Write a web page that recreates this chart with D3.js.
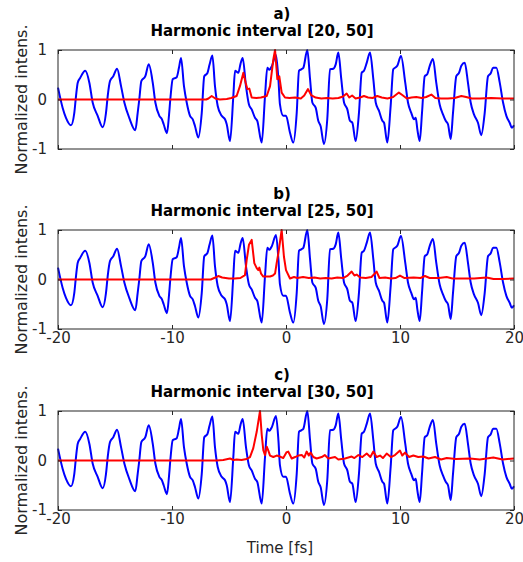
<!DOCTYPE html>
<html>
<head>
<meta charset="utf-8">
<script src="https://cdn.jsdelivr.net/npm/d3@7"></script>
<style>
body { margin: 0; background: #fff; }
text { font-family: "DejaVu Sans", sans-serif; fill: #262626; }
</style>
</head>
<body>
<div id="vis"></div>
<script>
var width = 523;
var height = 562;

// driving field, same in every panel
var fieldT = [-20.0, -19.59, -19.30, -18.86, -18.57, -18.42, -18.27, -18.07, -17.61, -17.25,
    -16.96, -16.52, -16.08, -15.79, -15.64, -15.44, -15.15, -14.82, -14.47, -14.18,
    -13.75, -13.22, -13.01, -12.87, -12.69, -12.34, -12.04, -11.69, -11.46, -11.11,
    -10.88, -10.73, -10.44, -10.26, -10.13, -9.94, -9.59, -9.39, -9.21, -8.95,
    -8.71, -8.42, -8.18, -7.98, -7.69, -7.39, -7.17, -6.90, -6.71, -6.46,
    -6.23, -5.99, -5.64, -5.35, -5.20, -4.91, -4.62, -4.47, -4.18, -3.99,
    -3.80, -3.51, -3.25, -3.01, -2.72, -2.52, -2.13, -1.84, -1.64, -1.46,
    -1.23, -0.88, -0.66, -0.53, -0.24, 0.0, 0.35, 0.64, 0.94, 1.14,
    1.34, 1.52, 1.87, 2.11, 2.31, 2.61, 2.83, 3.04, 3.33, 3.62,
    3.86, 4.15, 4.36, 4.59, 4.85, 5.09, 5.38, 5.61, 5.82, 6.11,
    6.40, 6.64, 6.84, 7.08, 7.37, 7.66, 7.87, 8.16, 8.45, 8.60,
    8.89, 9.18, 9.41, 9.76, 10.09, 10.46, 10.70, 10.99, 11.23, 11.38,
    11.52, 11.73, 11.93, 12.17, 12.39, 12.61, 12.89, 13.18, 13.48, 13.77,
    14.01, 14.21, 14.45, 14.65, 14.94, 15.18, 15.38, 15.68, 15.96, 16.20,
    16.49, 16.84, 17.13, 17.43, 17.72, 17.96, 18.16, 18.45, 18.75, 19.04,
    19.33, 19.62, 19.82, 20.0];
var fieldV = [0.24, -0.17, -0.37, -0.52, -0.27, 0.07, 0.34, 0.43, 0.58, 0.34,
    -0.06, -0.33, -0.56, -0.27, 0.07, 0.37, 0.47, 0.62, 0.27, -0.06,
    -0.37, -0.62, -0.27, 0.0, 0.37, 0.47, 0.71, 0.34, -0.06, -0.33,
    -0.40, -0.50, -0.68, -0.31, 0.05, 0.41, 0.45, 0.64, 0.84, 0.27,
    -0.06, -0.33, -0.40, -0.54, -0.77, -0.27, 0.47, 0.53, 0.70, 0.89,
    0.27, -0.13, -0.33, -0.40, -0.50, -0.84, 0.07, 0.58, 0.54, 0.72,
    0.84, 0.27, -0.10, -0.20, -0.37, -0.43, -0.87, 0.07, 0.64, 0.60,
    0.68, 0.90, 0.39, -0.10, -0.33, -0.33, -0.67, -0.87, -0.27, 0.58,
    0.61, 0.64, 1.0, 0.41, -0.06, -0.17, -0.43, -0.54, -0.90, -0.40,
    0.61, 0.62, 0.71, 0.95, 0.41, -0.06, -0.20, -0.43, -0.47, -0.84,
    -0.27, 0.54, 0.58, 0.74, 0.95, 0.41, -0.06, -0.23, -0.43, -0.47,
    -0.87, -0.13, 0.61, 0.68, 0.88, 0.34, -0.06, -0.27, -0.40, -0.37,
    -0.60, -0.84, -0.27, 0.47, 0.51, 0.68, 0.82, 0.34, -0.10, -0.30,
    -0.43, -0.50, -0.80, -0.27, 0.47, 0.54, 0.68, 0.74, 0.34, -0.06,
    -0.30, -0.47, -0.72, -0.27, 0.47, 0.53, 0.64, 0.64, 0.34, -0.06,
    -0.33, -0.47, -0.57, -0.52];

// attosecond pulse, harmonic interval [20, 50]
var pulseT_a = [-20, -7.0, -6.8, -6.52, -6.2, -5.8, -5.2, -4.8, -4.33, -4.04,
    -3.74, -3.54, -3.39, -3.22, -3.01, -2.6, -2.2, -1.69, -1.40, -1.11,
    -0.96, -0.76, -0.59, -0.38, -0.09, 0.3, 0.8, 1.3, 1.6, 1.93,
    2.2, 2.6, 3.1, 3.6, 4.1, 4.6, 5.0, 5.32, 5.55, 5.8,
    6.1, 6.5, 6.84, 7.2, 7.6, 8.0, 8.4, 8.9, 9.4, 9.9,
    10.2, 10.6, 11.0, 11.43, 11.9, 12.3, 12.75, 13.1, 13.6, 14.2,
    14.8, 15.38, 15.8, 16.3, 17.0, 18.0, 19.0, 20.0];
var pulseV_a = [0, 0, 0.02, 0.07, 0.02, 0.0, 0.01, 0.03, 0.07, 0.27,
    0.54, 0.34, 0.21, 0.22, 0.04, 0.03, 0.04, 0.07, 0.27, 0.81,
    1.0, 0.41, 0.47, 0.14, 0.04, 0.03, 0.04, 0.02, 0.08, 0.21,
    0.09, 0.04, 0.02, 0.03, 0.02, 0.03, 0.06, 0.12, 0.04, 0.08,
    0.02, 0.04, 0.07, 0.04, 0.03, 0.07, 0.04, 0.02, 0.05, 0.14,
    0.09, 0.02, 0.04, 0.05, 0.03, 0.05, 0.1, 0.03, 0.02, 0.02,
    0.03, 0.07, 0.05, 0.02, 0.02, 0.03, 0.02, 0.02];

// harmonic interval [25, 50]
var pulseT_b = [-20, -6.6, -6.2, -5.94, -5.6, -5.0, -4.5, -4.0, -3.60, -3.45,
    -3.25, -3.01, -2.78, -2.57, -2.43, -2.34, -2.19, -1.99, -1.40, -1.15,
    -0.96, -0.82, -0.67, -0.38, -0.18, 0.0, 0.35, 0.7, 1.0, 1.5,
    2.0, 2.5, 3.0, 3.5, 4.0, 4.5, 5.0, 5.4, 5.76, 6.0,
    6.2, 6.5, 7.0, 7.5, 7.95, 8.2, 8.7, 9.2, 9.6, 10.0,
    10.4, 11.2, 11.8, 12.19, 12.6, 13.4, 14.1, 14.6, 15.5, 16.5,
    17.6, 18.2, 19.0, 20.0];
var pulseV_b = [0, 0, 0.04, 0.07, 0.04, 0.02, 0.02, 0.03, 0.09, 0.39,
    0.70, 0.8, 0.33, 0.23, 0.19, 0.24, 0.12, 0.06, 0.06, 0.08,
    0.12, 0.33, 0.53, 1.0, 0.46, 0.19, 0.02, 0.05, 0.03, 0.05,
    0.03, 0.04, 0.02, 0.03, 0.02, 0.04, 0.03, 0.08, 0.16, 0.08,
    0.1, 0.04, 0.03, 0.05, 0.16, 0.03, 0.04, 0.02, 0.03, 0.08,
    0.03, 0.04, 0.03, 0.07, 0.03, 0.03, 0.05, 0.02, 0.02, 0.02,
    0.04, 0.01, 0.01, 0.02];

// harmonic interval [30, 50]
var pulseT_c = [-20, -6.5, -6.08, -5.5, -4.91, -4.6, -4.33, -3.9, -3.45, -3.16,
    -2.87, -2.57, -2.28, -2.13, -1.99, -1.84, -1.69, -1.55, -1.40, -1.11,
    -0.82, -0.53, -0.24, 0.06, 0.2, 0.5, 0.8, 1.08, 1.4, 1.6,
    1.81, 2.0, 2.16, 2.4, 2.69, 3.13, 3.4, 3.71, 4.3, 4.59,
    5.18, 5.76, 6.0, 6.35, 6.7, 7.08, 7.4, 7.66, 7.95, 8.25,
    8.5, 8.83, 9.2, 9.56, 10.0, 10.2, 10.44, 10.8, 11.17, 11.6,
    12.05, 12.5, 13.07, 13.6, 14.1, 14.9, 16.14, 17.0, 18.19, 19.0,
    20.0];
var pulseV_c = [0, 0, 0.0, 0.01, 0.04, 0.01, 0.02, 0.01, 0.03, 0.07,
    0.25, 0.58, 1.0, 0.52, 0.21, 0.11, 0.28, 0.2, 0.1, 0.07,
    0.1, 0.08, 0.05, 0.17, 0.18, 0.04, 0.07, 0.1, 0.11, 0.06,
    0.18, 0.1, 0.16, 0.07, 0.04, 0.07, 0.11, 0.04, 0.07, 0.02,
    0.04, 0.08, 0.05, 0.11, 0.07, 0.14, 0.07, 0.18, 0.07, 0.1,
    0.05, 0.14, 0.07, 0.11, 0.2, 0.1, 0.16, 0.07, 0.1, 0.07,
    0.08, 0.04, 0.07, 0.02, 0.05, 0.03, 0.04, 0.02, 0.06, 0.02,
    0.04];

var panelLetters = ['a)', 'b)', 'c)'];
var panelTitles = ['Harmonic interval [20, 50]', 'Harmonic interval [25, 50]', 'Harmonic interval [30, 50]'];
var pulseT = [pulseT_a, pulseT_b, pulseT_c];
var pulseV = [pulseV_a, pulseV_b, pulseV_c];
var xTicks = [-20, -10, 0, 10, 20];
var yTicks = [-1, 0, 1];
var showXLabels = [false, true, true];

var left = 58, right = 514, panelH = 99;
var panelTops = [50, 230, 411];

var svg = d3.select('#vis')
    .append('svg')
    .attr('width', width)
    .attr('height', height);

var x = d3.scaleLinear().domain([-20, 20]).range([left, right]);

// plain hyphen for negatives, like matlab
var fmt = function (d) { return String(d); };

function zipPts(ts, vs) {
    return ts.map(function (t, i) { return [t, vs[i]]; });
}

panelTops.forEach(function (top, p) {
    var y = d3.scaleLinear().domain([-1, 1]).range([top + panelH, top]);
    var g = svg.append('g');

    var line = d3.line()
        .x(function (d) { return x(d[0]); })
        .y(function (d) { return y(d[1]); });

    // blue field then red pulse on top
    g.append('path')
        .datum(zipPts(fieldT, fieldV))
        .attr('d', line.curve(d3.curveMonotoneX))
        .attr('fill', 'none')
        .attr('stroke', '#0000ff')
        .attr('stroke-width', 2)
        .attr('stroke-linejoin', 'round');
    g.append('path')
        .datum(zipPts(pulseT[p], pulseV[p]))
        .attr('d', line.curve(d3.curveLinear))
        .attr('fill', 'none')
        .attr('stroke', '#ff0000')
        .attr('stroke-width', 2)
        .attr('stroke-linejoin', 'round');

    // axes, ticks point inwards
    g.append('g')
        .attr('transform', 'translate(0,' + (top + panelH) + ')')
        .call(d3.axisBottom(x).tickValues(xTicks).tickSizeInner(-4).tickSizeOuter(0).tickPadding(3)
            .tickFormat(showXLabels[p] ? fmt : ''));
    g.append('g')
        .attr('transform', 'translate(0,' + top + ')')
        .call(d3.axisTop(x).tickValues(xTicks).tickSizeInner(-4).tickSizeOuter(0).tickFormat(''));
    g.append('g')
        .attr('transform', 'translate(' + left + ',0)')
        .call(d3.axisLeft(y).tickValues(yTicks).tickSizeInner(-4).tickSizeOuter(0).tickPadding(11)
            .tickFormat(fmt));
    g.append('g')
        .attr('transform', 'translate(' + right + ',0)')
        .call(d3.axisRight(y).tickValues(yTicks).tickSizeInner(-4).tickSizeOuter(0).tickFormat(''));

    g.selectAll('.domain').remove();
    g.selectAll('.tick line').attr('stroke', '#262626');
    g.selectAll('.tick text')
        .style('font-family', '"DejaVu Sans", sans-serif')
        .style('font-size', '15px')
        .attr('fill', '#262626');

    g.append('rect')
        .attr('x', left)
        .attr('y', top)
        .attr('width', right - left)
        .attr('height', panelH)
        .attr('fill', 'none')
        .attr('stroke', '#262626')
        .attr('stroke-width', 1);

    // titles
    g.append('text')
        .attr('x', 282)
        .attr('y', top - 31.5)
        .attr('text-anchor', 'middle')
        .style('font-size', '15px')
        .style('font-weight', 'bold')
        .style('fill', '#000')
        .text(panelLetters[p]);
    g.append('text')
        .attr('x', 262)
        .attr('y', top - 14)
        .attr('text-anchor', 'middle')
        .style('font-size', '15px')
        .style('font-weight', 'bold')
        .style('fill', '#000')
        .text(panelTitles[p]);

    g.append('text')
        .attr('transform', 'translate(27,' + (top + panelH / 2) + ') rotate(-90)')
        .attr('text-anchor', 'middle')
        .style('font-size', '16px')
        .text('Normalized intens.');
});

svg.append('text')
    .attr('x', 280)
    .attr('y', 553)
    .attr('text-anchor', 'middle')
    .style('font-size', '15px')
    .text('Time [fs]');
</script>
</body>
</html>
